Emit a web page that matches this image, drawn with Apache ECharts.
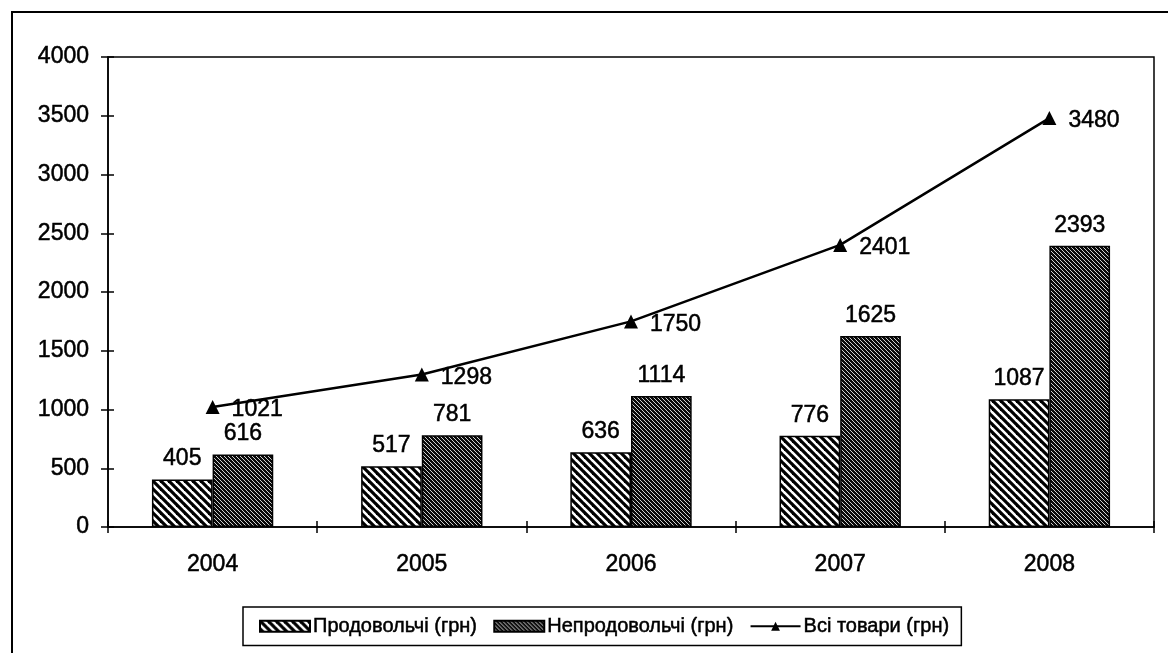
<!DOCTYPE html>
<html>
<head>
<meta charset="utf-8">
<script src="https://cdn.jsdelivr.net/npm/echarts@6/dist/echarts.min.js"></script>
<style>
html,body{margin:0;padding:0;background:#fff;}
#chart{width:1168px;height:653px;}
</style>
</head>
<body>
<div id="chart"></div>
<script>
var years = ['2004', '2005', '2006', '2007', '2008'];
var food = [405, 517, 636, 776, 1087];
var nonFood = [616, 781, 1114, 1625, 2393];
var total = [1021, 1298, 1750, 2401, 3480];
var seriesNames = ['Продовольчі (грн)', 'Непродовольчі (грн)', 'Всі товари (грн)'];
var yTicks = {min: 0, max: 4000, interval: 500};

function makePattern(size, bg, fg, lw) {
  var c = document.createElement('canvas');
  c.width = size; c.height = size;
  var ctx = c.getContext('2d');
  ctx.fillStyle = bg;
  ctx.fillRect(0, 0, size, size);
  ctx.strokeStyle = fg;
  ctx.lineWidth = lw;
  ctx.lineCap = 'square';
  for (var k = -1; k <= 1; k++) {
    ctx.beginPath();
    ctx.moveTo(k * size, 0);
    ctx.lineTo(k * size + size, size);
    ctx.stroke();
  }
  return c;
}
var pat1 = makePattern(8, '#ffffff', '#000000', 3.2);
var pat2 = makePattern(4, '#0a0a0a', '#cfcfcf', 1.0);

var FONT = "'Liberation Sans', Arial, sans-serif";
var NUM_FS = 23;
var LEG_FS = 20;
var txt = {fontFamily: FONT, fontSize: NUM_FS, color: '#000', textBorderColor: '#000', textBorderWidth: 0.5};

var chart = echarts.init(document.getElementById('chart'), null, {renderer: 'canvas'});
chart.setOption({
  animation: false,
  backgroundColor: '#ffffff',
  textStyle: {fontFamily: FONT, color: '#000'},
  graphic: [
    {type: 'line', shape: {x1: 11, y1: 12, x2: 1168, y2: 12}, style: {stroke: '#000', lineWidth: 2}},
    {type: 'line', shape: {x1: 12, y1: 12, x2: 12, y2: 653}, style: {stroke: '#000', lineWidth: 2}}
  ],
  grid: {left: 108, top: 57, right: 14, bottom: 126, show: true, borderColor: '#000', borderWidth: 1.5, backgroundColor: 'transparent'},
  legend: {
    left: 243, top: 607, width: 774,
    padding: [9, 12, 9, 16],
    borderColor: '#000', borderWidth: 1.5,
    itemWidth: 50, itemHeight: 11, itemGap: 16,
    textStyle: Object.assign({}, txt, {fontSize: LEG_FS, padding: [0, 0, 0, -2]}),
    data: [
      {name: seriesNames[0], icon: 'rect'},
      {name: seriesNames[1], icon: 'rect'},
      {name: seriesNames[2]}
    ]
  },
  xAxis: [
    {type: 'category', data: years, boundaryGap: true,
     axisLine: {lineStyle: {color: '#000', width: 1.5}},
     axisTick: {show: true, length: 6, lineStyle: {color: '#000', width: 1.5}},
     axisLabel: Object.assign({margin: 26}, txt),
     splitLine: {show: false}},
    {type: 'category', data: years, boundaryGap: true, position: 'bottom',
     axisLine: {show: false},
     axisTick: {show: true, inside: true, length: 6, lineStyle: {color: '#000', width: 1.5}},
     axisLabel: {show: false}, splitLine: {show: false}}
  ],
  yAxis: [
    {type: 'value', min: yTicks.min, max: yTicks.max, interval: yTicks.interval,
     axisLine: {show: true, lineStyle: {color: '#000', width: 1.5}},
     axisTick: {show: true, length: 7, lineStyle: {color: '#000', width: 1.5}},
     axisLabel: Object.assign({margin: 19, formatter: function (v) { return String(v); }}, txt),
     splitLine: {show: false}},
    {type: 'value', min: yTicks.min, max: yTicks.max, interval: yTicks.interval, position: 'left',
     axisLine: {show: false},
     axisTick: {show: true, inside: true, length: 6, lineStyle: {color: '#000', width: 1.5}},
     axisLabel: {show: false}, splitLine: {show: false}}
  ],
  series: [
    {name: seriesNames[0], type: 'bar', data: food, barGap: '0%', barCategoryGap: '42%',
     itemStyle: {color: {image: pat1, repeat: 'repeat'}, borderColor: '#000', borderWidth: 1.5},
     label: Object.assign({show: true, position: 'top', distance: 9}, txt)},
    {name: seriesNames[1], type: 'bar', data: nonFood, barGap: '0%', barCategoryGap: '42%',
     itemStyle: {color: {image: pat2, repeat: 'repeat'}, borderColor: '#000', borderWidth: 1.5},
     label: Object.assign({show: true, position: 'top', distance: 9}, txt)},
    {name: seriesNames[2], type: 'line', data: total, symbol: 'triangle', symbolSize: 14,
     lineStyle: {color: '#000', width: 2.5}, itemStyle: {color: '#000'},
     label: Object.assign({show: true, position: 'right', distance: 12, offset: [0, 3]}, txt),
     z: 5}
  ]
});
</script>
</body>
</html>
